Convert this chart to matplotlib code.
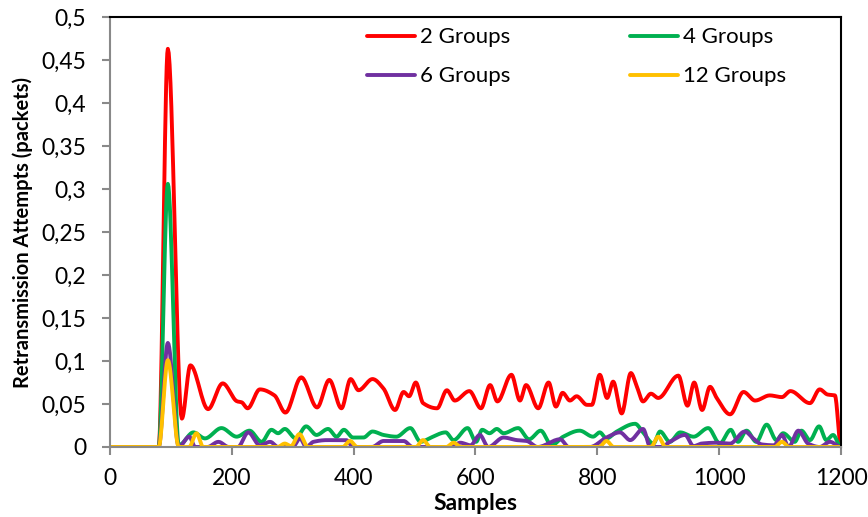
import numpy as np
import matplotlib.pyplot as plt
from matplotlib.ticker import FuncFormatter, MultipleLocator

# retransmission attempts per sample, read at the turning points of each curve
x_2g = [0, 80, 95, 118, 132, 161, 185, 209, 216, 226, 246, 270, 288, 314, 340, 360, 380, 395,
        408, 431, 449, 468, 482, 491, 502, 514, 537, 553, 566, 590, 609, 624, 636, 659, 673,
        683, 703, 720, 732, 743, 755, 766, 783, 791, 804, 816, 826, 840, 855, 865, 875, 888,
        900, 933, 948, 959, 972, 985, 996, 1018, 1040, 1059, 1083, 1103, 1117, 1149, 1165,
        1178, 1190, 1200]
y_2g = [0, 0, 0.463, 0.033, 0.095, 0.044, 0.074, 0.053, 0.052, 0.045, 0.067, 0.060, 0.040,
        0.081, 0.046, 0.078, 0.045, 0.079, 0.066, 0.079, 0.068, 0.043, 0.064, 0.059, 0.075,
        0.051, 0.045, 0.066, 0.054, 0.065, 0.045, 0.072, 0.053, 0.084, 0.054, 0.072, 0.045,
        0.075, 0.047, 0.063, 0.054, 0.059, 0.049, 0.049, 0.084, 0.057, 0.076, 0.039, 0.086,
        0.070, 0.053, 0.062, 0.057, 0.083, 0.048, 0.075, 0.043, 0.070, 0.057, 0.038, 0.064,
        0.054, 0.060, 0.058, 0.065, 0.051, 0.067, 0.061, 0.060, 0.0]

x_4g = [0, 80, 95, 113, 137, 156, 183, 208, 229, 249, 265, 276, 287, 305, 322, 339, 358, 372,
        384, 399, 416, 431, 449, 470, 493, 510, 527, 551, 564, 587, 601, 611, 623, 635, 646,
        670, 688, 707, 725, 744, 771, 793, 804, 815, 832, 862, 875, 892, 903, 919, 936, 958,
        982, 1001, 1019, 1031, 1045, 1061, 1078, 1094, 1105, 1124, 1135, 1149, 1164, 1176,
        1187, 1200]
y_4g = [0, 0, 0.306, 0.002, 0.017, 0.010, 0.022, 0.012, 0.019, 0.006, 0.020, 0.016, 0.021,
        0.010, 0.024, 0.014, 0.021, 0.012, 0.020, 0.011, 0.011, 0.018, 0.014, 0.012, 0.022,
        0.006, 0.011, 0.017, 0.008, 0.022, 0.006, 0.020, 0.016, 0.021, 0.016, 0.022, 0.009,
        0.019, 0.002, 0.012, 0.019, 0.012, 0.017, 0.010, 0.018, 0.027, 0.017, 0.004, 0.018,
        0.006, 0.017, 0.012, 0.022, 0.004, 0.020, 0.006, 0.019, 0.006, 0.026, 0.008, 0.016,
        0.006, 0.019, 0.008, 0.024, 0.008, 0.014, 0.0]

x_6g = [0, 80, 95, 113, 130, 140, 160, 178, 195, 210, 227, 246, 263, 276, 300, 312, 322, 334,
        356, 388, 399, 430, 449, 482, 497, 560, 575, 592, 607, 621, 646, 668, 684, 702, 739,
        753, 788, 815, 837, 854, 875, 887, 905, 919, 944, 958, 971, 996, 1018, 1042, 1056,
        1070, 1090, 1103, 1114, 1130, 1146, 1165, 1182, 1200]
y_6g = [0, 0, 0.121, 0, 0.012, 0, 0, 0.006, 0, 0, 0.017, 0.002, 0.006, 0, 0, 0.010, 0, 0.006,
        0.008, 0.008, 0, 0, 0.007, 0.007, 0, 0, 0.005, 0.002, 0.014, 0, 0.011, 0.008, 0.007,
        0, 0.009, 0, 0, 0.011, 0.017, 0.008, 0.021, 0, 0, 0.006, 0.014, 0.001, 0.004, 0.005,
        0.004, 0.018, 0.010, 0.003, 0.002, 0.014, 0, 0.019, 0.004, 0, 0.006, 0]

x_12g = [0, 80, 95, 113, 130, 142, 153, 275, 287, 297, 311, 325, 382, 394, 406, 502, 514, 526,
         552, 564, 576, 803, 815, 827, 888, 900, 912, 1091, 1103, 1115, 1200]
y_12g = [0, 0, 0.101, 0, 0, 0.016, 0, 0, 0.004, 0.001, 0.015, 0, 0, 0.007, 0, 0, 0.008, 0,
         0, 0.005, 0, 0, 0.007, 0, 0, 0.012, 0, 0, 0.006, 0, 0]

labels = ['2 Groups', '4 Groups', '6 Groups', '12 Groups']
colors = ['#FF0000', '#00B050', '#7030A0', '#FFC000']


def smooth(x, y, n=16):
    # monotone cubic (Fritsch-Carlson) so the curve passes every point without overshoot
    x = np.asarray(x, float)
    y = np.asarray(y, float)
    h = np.diff(x)
    d = np.diff(y) / h
    m = np.zeros_like(y)
    for i in range(1, len(y) - 1):
        if d[i - 1] * d[i] > 0:
            w1 = 2 * h[i] + h[i - 1]
            w2 = h[i] + 2 * h[i - 1]
            m[i] = (w1 + w2) / (w1 / d[i - 1] + w2 / d[i])
    t = np.linspace(0, 1, n, endpoint=False)
    h00 = 2 * t**3 - 3 * t**2 + 1
    h10 = t**3 - 2 * t**2 + t
    h01 = -2 * t**3 + 3 * t**2
    h11 = t**3 - t**2
    xs, ys = [], []
    for i in range(len(h)):
        xs.append(x[i] + t * h[i])
        ys.append(h00 * y[i] + h10 * h[i] * m[i] + h01 * y[i + 1] + h11 * h[i] * m[i + 1])
    xs.append([x[-1]])
    ys.append([y[-1]])
    return np.concatenate(xs), np.concatenate(ys)


plt.rcParams['font.family'] = ['Lato', 'DejaVu Sans']
fig = plt.figure(figsize=(8.68, 5.17), dpi=100)
ax = fig.add_axes([0.1267, 0.1354, 0.8422, 0.8317])

series = [(x_2g, y_2g), (x_4g, y_4g), (x_6g, y_6g), (x_12g, y_12g)]
lines = []
for (xs, ys), label, color in zip(series, labels, colors):
    sx, sy = smooth(xs, ys)
    line, = ax.plot(sx, sy, color=color, lw=2.8, label=label, solid_capstyle='round')
    lines.append(line)

ax.set_xlim(0, 1200)
ax.set_ylim(0, 0.5)
ax.xaxis.set_major_locator(MultipleLocator(200))
ax.yaxis.set_major_locator(MultipleLocator(0.05))
ax.yaxis.set_major_formatter(FuncFormatter(lambda v, p: ('%g' % round(v, 2)).replace('.', ',')))

grey = '#898989'
for side in ['left', 'bottom']:
    ax.spines[side].set_color(grey)
    ax.spines[side].set_linewidth(1.5)
for side in ['top', 'right']:
    ax.spines[side].set_color('black')
    ax.spines[side].set_linewidth(1.5)
ax.tick_params(direction='out', length=6, width=1.5, color=grey, labelsize=16.5)
ax.tick_params(axis='y', pad=11)
ax.tick_params(axis='x', pad=9)

ax.set_xlabel('Samples', fontsize=16.5, fontweight='bold', labelpad=3)
ax.set_ylabel('Retransmission Attempts (packets)', fontsize=14.5, fontweight='bold', labelpad=6)

# row-major legend: 2 / 4 on top, 6 / 12 below
order = [0, 2, 1, 3]
ax.legend([lines[i] for i in order], [labels[i] for i in order],
          loc='upper left', bbox_to_anchor=(0.3516, 0.976), ncol=2, frameon=False,
          fontsize=16, borderpad=0, borderaxespad=0, handlelength=2.16,
          handletextpad=0.22, columnspacing=5.4, labelspacing=0.86)

fig.savefig('out.png', dpi=100)
